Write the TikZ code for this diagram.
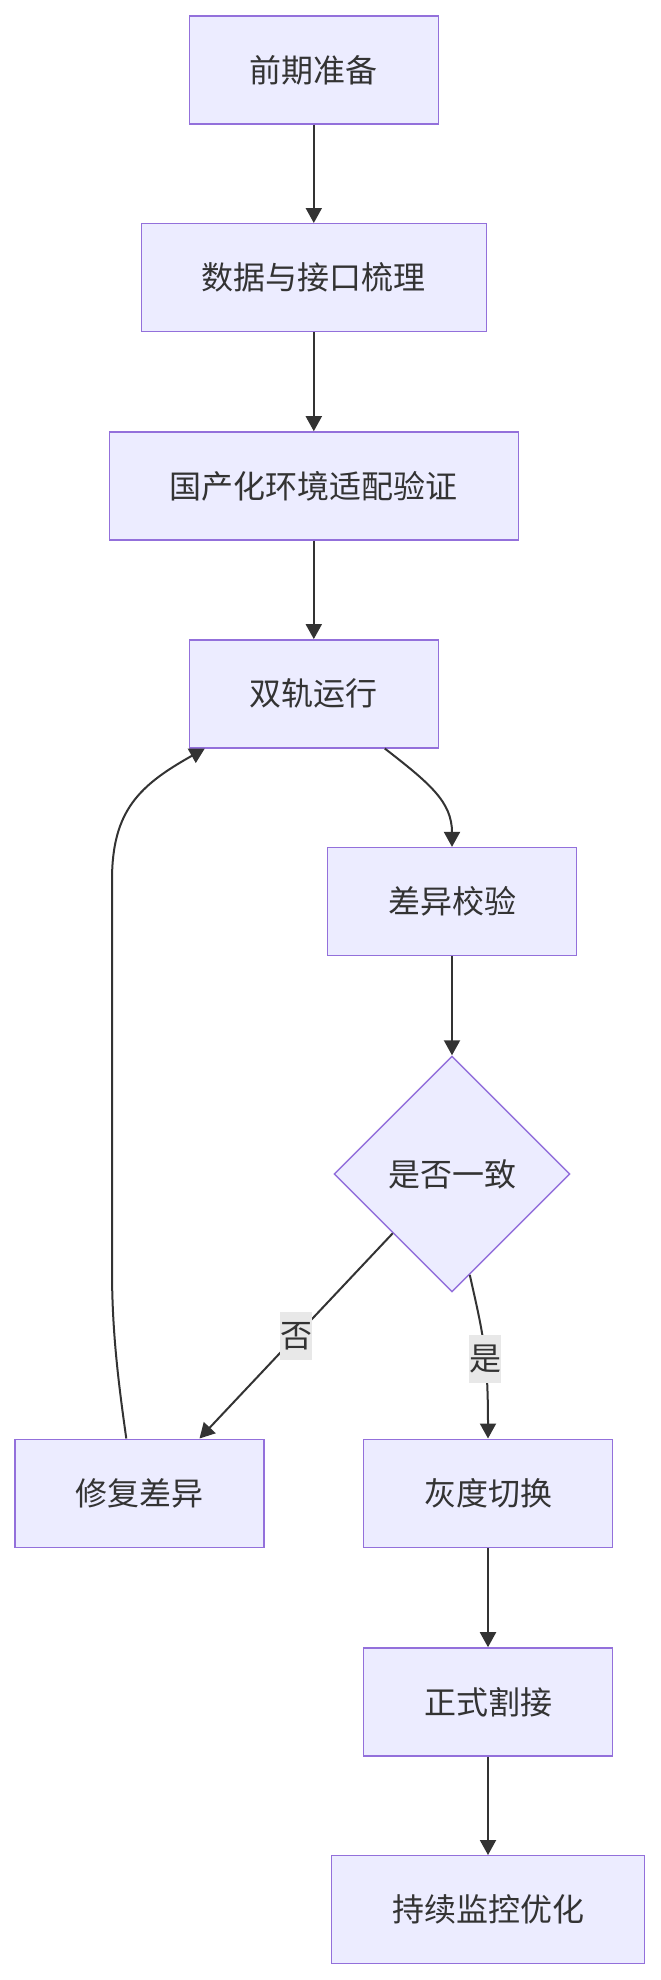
\documentclass[tikz,border=0pt]{standalone}
\usepackage{fontspec}
\newfontfamily\cjk{Noto Sans CJK SC}
\usetikzlibrary{shapes.geometric,arrows.meta}
\definecolor{nodefill}{HTML}{ECECFF}
\definecolor{nodeline}{HTML}{9370DB}
\definecolor{textgray}{HTML}{333333}
\definecolor{labelbg}{HTML}{E8E8E8}

\begin{document}
\begin{tikzpicture}[x=0.5pt, y=-0.5pt,
    box/.style={draw=nodeline, fill=nodefill, line width=0.7pt, text=textgray,
        font=\cjk\fontsize{16pt}{19pt}\selectfont,
        inner xsep=30.25pt, inner ysep=0pt, minimum height=54pt},
    decide/.style={box, diamond, inner sep=0pt, minimum width=118pt, minimum height=118pt},
    flow/.style={draw=textgray, line width=1pt, -{Triangle[length=7.5pt, width=8pt]}},
    lbl/.style={fill=labelbg, text=textgray, font=\cjk\fontsize{16pt}{19pt}\selectfont,
        inner sep=0pt, minimum width=16pt, minimum height=24pt}]
    % 定义各列位置
    \def\colA{313.8}   % 主流程列
    \def\colB{452}     % 校验列
    \def\colC{488}     % 切换列
    \def\colD{139.5}   % 修复列

    \useasboundingbox (0,0) rectangle (660,1980);

    % 主流程节点
    \node[box] (prep)  at (\colA, 70)    {前期准备};
    \node[box] (sort)  at (\colA, 277.7) {数据与接口梳理};
    \node[box] (adapt) at (\colA, 485.9) {国产化环境适配验证};
    \node[box] (dual)  at (\colA, 693.8) {双轨运行};

    % 校验与判断
    \node[box]    (check) at (\colB, 901.6) {差异校验};
    \node[decide] (same)  at (\colB, 1174)  {是否一致};

    % 分支节点
    \node[box] (fix)     at (\colD, 1493.2) {修复差异};
    \node[box] (gray)    at (\colC, 1493.2) {灰度切换};
    \node[box] (cut)     at (\colC, 1701.9) {正式割接};
    \node[box] (monitor) at (\colC, 1909.7) {持续监控优化};

    % 直线连接
    \draw[flow] (prep) -- (sort);
    \draw[flow] (sort) -- (adapt);
    \draw[flow] (adapt) -- (dual);
    \draw[flow] (check) -- (same);
    \draw[flow] (gray) -- (cut);
    \draw[flow] (cut) -- (monitor);

    % 双轨运行到差异校验（曲线）
    \draw[flow] ([xshift=35.5pt]dual.south)
        .. controls +(45,35) and +(0,-45) .. (check.north);

    % 判断分支
    \draw[flow] (same.south west) -- node[lbl] {否} ([xshift=30pt]fix.north);
    \draw[flow] (same.-80) .. controls (482,1330) and (488,1350) ..
        node[lbl, pos=0.6] {是} (gray.north);

    % 修复后回到双轨运行
    \draw[flow] ([xshift=-6.6pt]fix.north)
        .. controls (118,1380) and (112,1330) .. (112,1270)
        -- (112,880)
        .. controls (112,810) and (140,785) .. ([xshift=-54.5pt]dual.south);
\end{tikzpicture}
\end{document}
